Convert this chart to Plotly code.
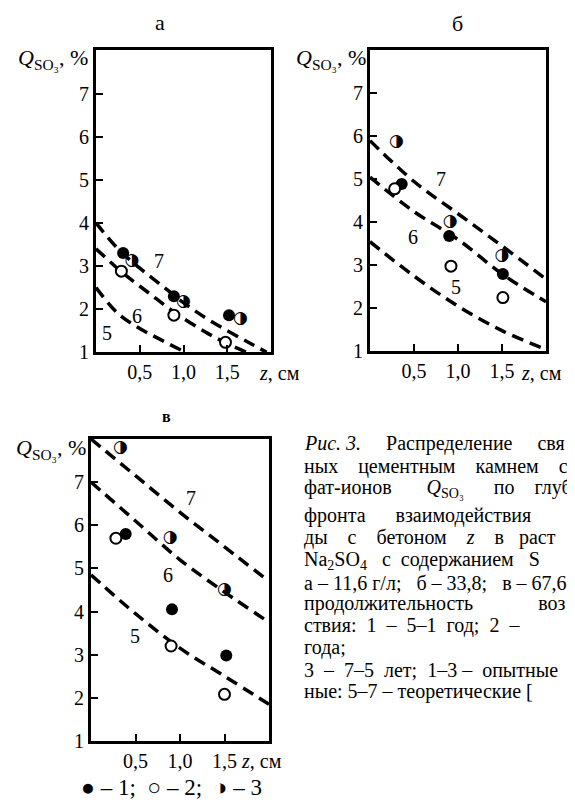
import numpy as np
import plotly.graph_objects as go

W, H = 575, 808

# ---------------- data ----------------
# panel а
a_filled_x = [0.31, 0.89, 1.52]
a_filled_y = [3.30, 2.30, 1.86]
a_open_x = [0.29, 0.89, 1.48]
a_open_y = [2.88, 1.86, 1.23]
a_half_x = [0.41, 1.00, 1.65]
a_half_y = [3.12, 2.18, 1.78]
a_c7_x = [0, 0.25, 0.5, 0.75, 1.0, 1.25, 1.5, 1.75, 1.95]
a_c7_y = [4.0, 3.4, 2.95, 2.55, 2.15, 1.8, 1.5, 1.22, 1.0]
a_c6_x = [0, 0.3, 0.6, 0.9, 1.25, 1.5, 1.72]
a_c6_y = [3.4, 2.85, 2.38, 1.92, 1.47, 1.2, 1.0]
a_c5_x = [0, 0.25, 0.5, 0.75, 1.02]
a_c5_y = [2.5, 1.9, 1.55, 1.28, 1.0]

# panel б
b_filled_x = [0.36, 0.90, 1.51]
b_filled_y = [4.89, 3.68, 2.80]
b_open_x = [0.28, 0.92, 1.51]
b_open_y = [4.78, 2.98, 2.25]
b_half_x = [0.30, 0.91, 1.50]
b_half_y = [5.87, 4.02, 3.22]
b_c_x = [0, 0.5, 1.0, 1.5, 2.0]
b_c7_y = [5.9, 4.95, 4.2, 3.45, 2.68]
b_c6_y = [5.05, 4.25, 3.6, 2.8, 2.15]
b_c5_y = [3.55, 2.75, 2.05, 1.48, 1.04]

# panel в
v_filled_x = [0.39, 0.91, 1.52]
v_filled_y = [5.80, 4.05, 2.98]
v_open_x = [0.28, 0.90, 1.50]
v_open_y = [5.70, 3.20, 2.08]
v_half_x = [0.33, 0.89, 1.50]
v_half_y = [7.80, 5.70, 4.50]
v_c_x = [0, 0.5, 1.0, 1.5, 2.0]
v_c7_y = [8.0, 7.15, 6.3, 5.5, 4.7]
v_c6_y = [7.0, 6.1, 5.2, 4.45, 3.75]
v_c5_y = [4.85, 3.95, 3.15, 2.5, 1.85]

# curve label positions (x, y) per panel
a_labels = [("7", 0.72, 3.11), ("6", 0.47, 1.84), ("5", 0.13, 1.45)]
b_labels = [("7", 0.81, 5.01), ("6", 0.49, 3.66), ("5", 0.98, 2.49)]
v_labels = [("7", 1.12, 6.63), ("6", 0.87, 4.84), ("5", 0.49, 3.43)]

y_ticks = [1, 2, 3, 4, 5, 6, 7]
x_ticks = [0.5, 1.0, 1.5]
x_ticktext = ["0,5", "1,0", "1,5"]

S = "\u00a0"
caption_lines = [
    "<i>Рис." + S + "3.</i>" + S * 5 + "Распределение" + S * 5 + "свя",
    "ных" + S * 4 + "цементным" + S * 4 + "камнем" + S * 4 + "с",
    "фат-ионов" + S * 7 + "<i>Q</i><sub>SO₃</sub>" + S * 6 + "по" + S * 4 + "глуб",
    "фронта" + S * 6 + "взаимодействия",
    "ды" + S * 4 + "с" + S * 4 + "бетоном" + S * 4 + "<i>z</i>" + S * 4 + "в" + S * 3 + "раст",
    "Na<sub>2</sub>SO<sub>4</sub>" + S * 3 + "с" + S * 2 + "содержанием" + S * 3 + "S",
    "а – 11,6 г/л;" + S * 3 + "б – 33,8;" + S * 3 + "в – 67,6",
    "продолжительность" + S * 13 + "воз",
    "ствия:" + S * 2 + "1" + S * 2 + "–" + S * 2 + "5–1" + S * 2 + "год;" + S * 2 + "2" + S * 2 + "–",
    "года;",
    "3" + S * 2 + "–" + S * 2 + "7–5" + S * 2 + "лет;" + S * 2 + "1–3" + S + "–" + S * 2 + "опытные",
    "ные: 5–7 – теоретические [",
]
legend_text = "● – 1;  ○ – 2;  ◑ – 3"

# ---------------- layout helpers ----------------
SERIF = "Liberation Serif, Times New Roman, DejaVu Serif, serif"


def px(x):
    return x / W


def py(y):
    return 1 - y / H


panels = [
    ("x", "y", 88, 263, 43, 349),
    ("x2", "y2", 362, 538, 43, 348),
    ("x3", "y3", 83, 261, 437, 743),
]

fig = go.Figure()

dash = "12px,7px"


def add_panel(k, curves, filled, opened, half, labels):
    xa, ya = panels[k][0], panels[k][1]
    for cx, cy in curves:
        fig.add_trace(go.Scatter(x=cx, y=cy, mode="lines", xaxis=xa, yaxis=ya,
                                 line=dict(color="black", width=3.5, dash=dash, shape="spline"),
                                 hoverinfo="skip"))
    fig.add_trace(go.Scatter(x=filled[0], y=filled[1], mode="markers", xaxis=xa, yaxis=ya,
                             marker=dict(symbol="circle", size=12, color="black")))
    fig.add_trace(go.Scatter(x=opened[0], y=opened[1], mode="markers", xaxis=xa, yaxis=ya,
                             marker=dict(symbol="circle", size=11, color="white",
                                         line=dict(color="black", width=2))))
    fig.add_trace(go.Scatter(x=half[0], y=half[1], mode="text", xaxis=xa, yaxis=ya,
                             text=["◑"] * len(half[0]), textposition="middle center",
                             textfont=dict(family="DejaVu Sans", size=17, color="black")))
    for t, lx, ly in labels:
        fig.add_annotation(x=lx, y=ly, xref=xa, yref=ya, text=t, showarrow=False,
                           font=dict(family=SERIF, size=20, color="black"))


add_panel(0, [(a_c7_x, a_c7_y), (a_c6_x, a_c6_y), (a_c5_x, a_c5_y)],
          (a_filled_x, a_filled_y), (a_open_x, a_open_y), (a_half_x, a_half_y), a_labels)
add_panel(1, [(b_c_x, b_c7_y), (b_c_x, b_c6_y), (b_c_x, b_c5_y)],
          (b_filled_x, b_filled_y), (b_open_x, b_open_y), (b_half_x, b_half_y), b_labels)
add_panel(2, [(v_c_x, v_c7_y), (v_c_x, v_c6_y), (v_c_x, v_c5_y)],
          (v_filled_x, v_filled_y), (v_open_x, v_open_y), (v_half_x, v_half_y), v_labels)

axis_common = dict(showgrid=False, zeroline=False, showline=True, mirror=True,
                   linecolor="black", linewidth=3, ticks="inside", ticklen=7,
                   tickwidth=2, tickcolor="black",
                   tickfont=dict(family=SERIF, size=20, color="black"))

layout = dict(width=W, height=H, margin=dict(l=0, r=0, t=0, b=0),
              paper_bgcolor="white", plot_bgcolor="white", showlegend=False,
              font=dict(family=SERIF, size=20, color="black"))

for i, (xa, ya, l, r, t, b) in enumerate(panels):
    xk = "xaxis" if i == 0 else f"xaxis{i + 1}"
    yk = "yaxis" if i == 0 else f"yaxis{i + 1}"
    layout[xk] = dict(axis_common, domain=[px(l), px(r)], range=[0, 2], anchor=ya,
                      tickvals=x_ticks, ticktext=x_ticktext, ticklabelstandoff=0)
    layout[yk] = dict(axis_common, domain=[py(b), py(t)], range=[1, 8], anchor=xa,
                      tickvals=y_ticks, ticktext=[str(v) for v in y_ticks],
                      ticklabelstandoff=0)

fig.update_layout(**layout)


def add_text(x, y, text, size=20, xanchor="center", family=SERIF):
    fig.add_annotation(x=px(x), y=py(y), xref="paper", yref="paper", text=text,
                       showarrow=False, xanchor=xanchor, yanchor="middle",
                       font=dict(family=family, size=size, color="black"))


qlabel = "<i>Q</i><sub>SO₃</sub>, %"
add_text(152, 15, "а", size=22)
add_text(449, 16, "б", size=22)
add_text(158, 414, "<b>в</b>", size=16)
add_text(82, 52, qlabel, xanchor="right", size=22)
add_text(360, 52, qlabel, xanchor="right", size=22)
add_text(80, 447, qlabel, xanchor="right", size=22)
add_text(249, 370, "<i>z</i>, см", xanchor="left")
add_text(511, 370, "<i>z</i>, см", xanchor="left")
add_text(231, 763, "<i>z</i>, см", xanchor="left")
add_text(163, 790, legend_text, size=23)

cap_y = [442, 465, 487, 515, 537, 560, 583, 604, 626, 648, 671, 693]
for yy, line in zip(cap_y, caption_lines):
    add_text(294, yy, line, size=20, xanchor="left")

fig.write_html("out.html")
